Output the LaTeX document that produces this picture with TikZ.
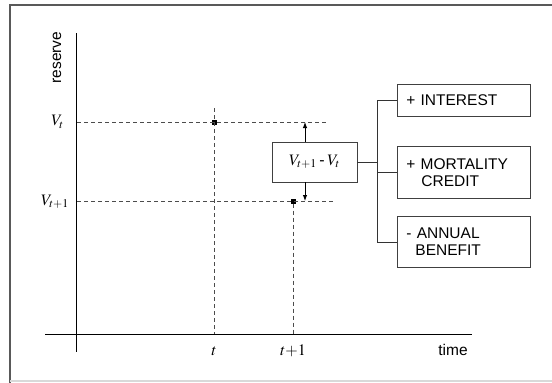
\documentclass[tikz,border=0pt]{standalone}
\usepackage{mathptmx}
\usepackage{fontspec}
\setmainfont{Liberation Sans}
\usetikzlibrary{arrows.meta}

\begin{document}
\begin{tikzpicture}
        [x=1pt,y=-1pt,every node/.style={font=\fontsize{15.5}{17}\selectfont},
        axis/.style={line width=1pt},
        guide/.style={dash pattern=on 4pt off 3pt,draw=black!70,line width=.9pt},
        item/.style={draw=black!75,line width=.9pt,minimum width=133pt,anchor=north west,
          text width=115pt,align=left,inner xsep=9pt},
        dot/.style={fill=black,inner sep=0pt,minimum size=5pt},
        arr/.style={-{Latex[length=6pt,width=4.5pt]},line width=.9pt}]
        \useasboundingbox (0,0) rectangle (552,383);
        \draw[black!65,line width=1.2pt] (10,383) -- (10,5) -- (552,5);
        \draw[black!15,line width=1.2pt] (10,381) -- (552,381);

        % axes
        \draw[axis] (76,33) -- (76,352); \draw[axis] (45,334) -- (472,334);
        \node[rotate=90] (reserve) at (57,57.5) {reserve};
        \node (time) at (453,350) {time};
        \node[anchor=east,inner sep=0pt,font=\fontsize{16}{18}\selectfont] (lvt) at (64,122) {$V_t$};
        \node[anchor=east,inner sep=0pt,font=\fontsize{16}{18}\selectfont] (lvt1) at (69,202) {$V_{t+1}$};
        \node[font=\fontsize{16}{18}\selectfont] (lt) at (214,351) {$t$};
        \node[font=\fontsize{16}{18}\selectfont] (lt1) at (293,351) {$t{+}1$};

        % reserve levels
        \node[dot] (pt) at (214,122) {}; \node[dot] (pt1) at (293,201) {};
        \coordinate (up) at (305,122); \coordinate (dn) at (305,201);
        \draw[guide] (77,122) -- (328,122); \draw[guide] (77,201) -- (335,201);
        \draw[guide] (214,108) -- (214,334); \draw[guide] (pt1) -- (293,334);

        % change in reserve
        \node[draw=black!75,line width=.9pt,minimum width=85pt,minimum height=40pt,
          font=\fontsize{16}{18}\selectfont] (diff) at (314.5,162) {$V_{t+1}$\,-\,$V_t$};
        \draw[arr] (diff.north -| up) -- (up); \draw[arr] (diff.south -| dn) -- (dn);

        \node[item,minimum height=32pt] (interest) at (397,84) {+ INTEREST};
        \node[item,minimum height=52pt] (mortality) at (397,146) {+ MORTALITY\\\hspace*{15pt}CREDIT};
        \node[item,minimum height=51pt] (annual) at (397,216) {- ANNUAL\\\hspace*{9pt}BENEFIT};
        \coordinate (fork) at (377,162);

        \draw[line width=.9pt,black!80] (diff) -- (fork);
        \draw[line width=.9pt,black!80] (fork |- interest.west) -- (fork |- annual.west);
        \foreach \to in {interest,mortality,annual} \draw[line width=.9pt,black!80] (fork |- \to.west) -- (\to.west);
    \end{tikzpicture}
\end{document}
